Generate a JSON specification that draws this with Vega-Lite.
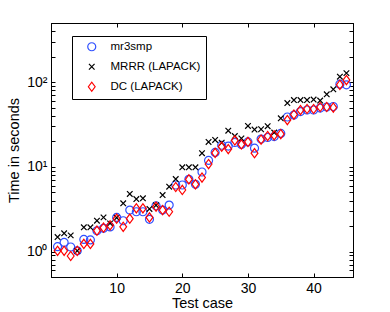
{
  "$schema": "https://vega.github.io/schema/vega-lite/v6.json",
  "width": 302,
  "height": 254,
  "autosize": {"type": "none"},
  "padding": {"left": 51, "top": 23, "right": 37, "bottom": 35},
  "background": "white",
  "config": {
    "view": {"stroke": "black", "strokeWidth": 1},
    "font": "Liberation Sans",
    "axis": {"grid": false, "domainColor": "black", "tickColor": "black", "labelColor": "black", "titleColor": "black", "labelFont": "Liberation Sans", "titleFont": "Liberation Sans", "labelFontSize": 14, "titleFontSize": 14.5, "titleFontWeight": "normal", "tickSize": -4, "labelOverlap": false}
  },
  "datasets": {
    "d": [
      {"case":1,"method":"mr3smp","time":1.14},{"case":2,"method":"mr3smp","time":1.28},{"case":3,"method":"mr3smp","time":1.13},{"case":4,"method":"mr3smp","time":1.02},{"case":5,"method":"mr3smp","time":1.39},{"case":6,"method":"mr3smp","time":1.37},{"case":7,"method":"mr3smp","time":1.76},{"case":8,"method":"mr3smp","time":1.88},{"case":9,"method":"mr3smp","time":1.95},{"case":10,"method":"mr3smp","time":2.53},{"case":11,"method":"mr3smp","time":2.31},{"case":12,"method":"mr3smp","time":3.09},{"case":13,"method":"mr3smp","time":2.95},{"case":14,"method":"mr3smp","time":2.95},{"case":15,"method":"mr3smp","time":2.40},{"case":16,"method":"mr3smp","time":3.47},{"case":17,"method":"mr3smp","time":3.09},{"case":18,"method":"mr3smp","time":3.54},{"case":19,"method":"mr3smp","time":6.10},{"case":20,"method":"mr3smp","time":6.10},{"case":21,"method":"mr3smp","time":7.12},{"case":22,"method":"mr3smp","time":6.22},{"case":23,"method":"mr3smp","time":8.69},{"case":24,"method":"mr3smp","time":11.9},{"case":25,"method":"mr3smp","time":14.8},{"case":26,"method":"mr3smp","time":18.0},{"case":27,"method":"mr3smp","time":17.6},{"case":28,"method":"mr3smp","time":19.4},{"case":29,"method":"mr3smp","time":18.4},{"case":30,"method":"mr3smp","time":19.7},{"case":31,"method":"mr3smp","time":16.6},{"case":32,"method":"mr3smp","time":21.3},{"case":33,"method":"mr3smp","time":22.2},{"case":34,"method":"mr3smp","time":22.8},{"case":35,"method":"mr3smp","time":24.8},{"case":36,"method":"mr3smp","time":38.8},{"case":37,"method":"mr3smp","time":40.9},{"case":38,"method":"mr3smp","time":45.0},{"case":39,"method":"mr3smp","time":46.9},{"case":40,"method":"mr3smp","time":46.9},{"case":41,"method":"mr3smp","time":49.5},{"case":42,"method":"mr3smp","time":50.9},{"case":43,"method":"mr3smp","time":51.6},{"case":44,"method":"mr3smp","time":94.8},{"case":45,"method":"mr3smp","time":93.0},
      {"case":1,"method":"MRRR (LAPACK)","time":1.48},{"case":2,"method":"MRRR (LAPACK)","time":1.64},{"case":3,"method":"MRRR (LAPACK)","time":1.55},{"case":4,"method":"MRRR (LAPACK)","time":1.02},{"case":5,"method":"MRRR (LAPACK)","time":1.93},{"case":6,"method":"MRRR (LAPACK)","time":1.93},{"case":7,"method":"MRRR (LAPACK)","time":2.31},{"case":8,"method":"MRRR (LAPACK)","time":2.53},{"case":9,"method":"MRRR (LAPACK)","time":2.15},{"case":10,"method":"MRRR (LAPACK)","time":2.51},{"case":11,"method":"MRRR (LAPACK)","time":3.71},{"case":12,"method":"MRRR (LAPACK)","time":4.78},{"case":13,"method":"MRRR (LAPACK)","time":4.17},{"case":14,"method":"MRRR (LAPACK)","time":4.25},{"case":15,"method":"MRRR (LAPACK)","time":3.18},{"case":16,"method":"MRRR (LAPACK)","time":3.51},{"case":17,"method":"MRRR (LAPACK)","time":4.65},{"case":18,"method":"MRRR (LAPACK)","time":5.83},{"case":19,"method":"MRRR (LAPACK)","time":7.18},{"case":20,"method":"MRRR (LAPACK)","time":9.87},{"case":21,"method":"MRRR (LAPACK)","time":9.87},{"case":22,"method":"MRRR (LAPACK)","time":9.87},{"case":23,"method":"MRRR (LAPACK)","time":14.5},{"case":24,"method":"MRRR (LAPACK)","time":19.7},{"case":25,"method":"MRRR (LAPACK)","time":20.8},{"case":26,"method":"MRRR (LAPACK)","time":19.3},{"case":27,"method":"MRRR (LAPACK)","time":26.7},{"case":28,"method":"MRRR (LAPACK)","time":23.1},{"case":29,"method":"MRRR (LAPACK)","time":21.7},{"case":30,"method":"MRRR (LAPACK)","time":30.4},{"case":31,"method":"MRRR (LAPACK)","time":27.6},{"case":32,"method":"MRRR (LAPACK)","time":27.8},{"case":33,"method":"MRRR (LAPACK)","time":30.2},{"case":34,"method":"MRRR (LAPACK)","time":25.4},{"case":35,"method":"MRRR (LAPACK)","time":37.4},{"case":36,"method":"MRRR (LAPACK)","time":56.7},{"case":37,"method":"MRRR (LAPACK)","time":61.5},{"case":38,"method":"MRRR (LAPACK)","time":61.5},{"case":39,"method":"MRRR (LAPACK)","time":61.5},{"case":40,"method":"MRRR (LAPACK)","time":62.4},{"case":41,"method":"MRRR (LAPACK)","time":60.7},{"case":42,"method":"MRRR (LAPACK)","time":71.9},{"case":43,"method":"MRRR (LAPACK)","time":82.4},{"case":44,"method":"MRRR (LAPACK)","time":116},{"case":45,"method":"MRRR (LAPACK)","time":128},
      {"case":1,"method":"DC (LAPACK)","time":1.02},{"case":2,"method":"DC (LAPACK)","time":1.02},{"case":3,"method":"DC (LAPACK)","time":0.885},{"case":4,"method":"DC (LAPACK)","time":1.02},{"case":5,"method":"DC (LAPACK)","time":1.23},{"case":6,"method":"DC (LAPACK)","time":1.23},{"case":7,"method":"DC (LAPACK)","time":1.76},{"case":8,"method":"DC (LAPACK)","time":1.91},{"case":9,"method":"DC (LAPACK)","time":2.04},{"case":10,"method":"DC (LAPACK)","time":2.44},{"case":11,"method":"DC (LAPACK)","time":1.96},{"case":12,"method":"DC (LAPACK)","time":2.44},{"case":13,"method":"DC (LAPACK)","time":3.24},{"case":14,"method":"DC (LAPACK)","time":3.24},{"case":15,"method":"DC (LAPACK)","time":2.53},{"case":16,"method":"DC (LAPACK)","time":3.38},{"case":17,"method":"DC (LAPACK)","time":3.09},{"case":18,"method":"DC (LAPACK)","time":2.95},{"case":19,"method":"DC (LAPACK)","time":5.78},{"case":20,"method":"DC (LAPACK)","time":5.33},{"case":21,"method":"DC (LAPACK)","time":7.12},{"case":22,"method":"DC (LAPACK)","time":6.22},{"case":23,"method":"DC (LAPACK)","time":7.48},{"case":24,"method":"DC (LAPACK)","time":10.8},{"case":25,"method":"DC (LAPACK)","time":14.6},{"case":26,"method":"DC (LAPACK)","time":17.3},{"case":27,"method":"DC (LAPACK)","time":16.2},{"case":28,"method":"DC (LAPACK)","time":20.5},{"case":29,"method":"DC (LAPACK)","time":18.4},{"case":30,"method":"DC (LAPACK)","time":19.7},{"case":31,"method":"DC (LAPACK)","time":14.5},{"case":32,"method":"DC (LAPACK)","time":21.0},{"case":33,"method":"DC (LAPACK)","time":23.1},{"case":34,"method":"DC (LAPACK)","time":23.6},{"case":35,"method":"DC (LAPACK)","time":24.4},{"case":36,"method":"DC (LAPACK)","time":35.7},{"case":37,"method":"DC (LAPACK)","time":41.5},{"case":38,"method":"DC (LAPACK)","time":46.9},{"case":39,"method":"DC (LAPACK)","time":48.2},{"case":40,"method":"DC (LAPACK)","time":48.2},{"case":41,"method":"DC (LAPACK)","time":50.9},{"case":42,"method":"DC (LAPACK)","time":50.9},{"case":43,"method":"DC (LAPACK)","time":50.2},{"case":44,"method":"DC (LAPACK)","time":93.0},{"case":45,"method":"DC (LAPACK)","time":106}
    ]
  },
  "data": {"name": "d"},
  "resolve": {"axis": {"x": "independent", "y": "independent"}},
  "layer": [
    {
      "mark": {"type": "point", "filled": false, "strokeWidth": 1.2, "opacity": 1, "size": 64},
      "encoding": {
        "x": {"field": "case", "type": "quantitative", "scale": {"domain": [0, 46], "nice": false, "zero": false},
              "axis": {"values": [10, 20, 30, 40], "title": "Test case", "labelPadding": 8, "titlePadding": 1}},
        "y": {"field": "time", "type": "quantitative", "scale": {"type": "log", "domain": [0.5, 500], "nice": false},
              "axis": {"values": [0.5,0.6,0.7,0.8,0.9,1,2,3,4,5,6,7,8,9,10,20,30,40,50,60,70,80,90,100,200,300,400,500],
                       "labelExpr": "datum.value == 1 ? '10⁰' : datum.value == 10 ? '10¹' : datum.value == 100 ? '10²' : ''",
                       "title": "Time in seconds", "labelPadding": 8, "titlePadding": 5}},
        "color": {"field": "method", "type": "nominal",
                  "scale": {"domain": ["mr3smp", "MRRR (LAPACK)", "DC (LAPACK)"], "range": ["#2f4fff", "#000000", "#ff0000"]},
                  "legend": {"orient": "none", "legendX": 21, "legendY": 13, "title": null, "strokeColor": "black", "fillColor": "white",
                             "padding": 5, "rowPadding": 6, "labelFontSize": 11.5, "labelFont": "Liberation Sans", "labelColor": "black",
                             "symbolSize": 64, "symbolStrokeWidth": 1.2, "symbolOffset": 9, "labelOffset": 13, "symbolFillColor": "transparent"}},
        "shape": {"field": "method", "type": "nominal",
                  "scale": {"domain": ["mr3smp", "MRRR (LAPACK)", "DC (LAPACK)"], "range": ["circle", "M-0.7,-0.7L0.7,0.7M-0.7,0.7L0.7,-0.7", "M-0.85,0L0,-1.15L0.85,0L0,1.15Z"]},
                  "legend": null}
      }
    },
    {
      "mark": {"type": "point", "opacity": 0},
      "encoding": {
        "x": {"field": "case", "type": "quantitative", "axis": {"orient": "top", "values": [10, 20, 30, 40], "labels": false, "title": null}},
        "y": {"field": "time", "type": "quantitative",
              "axis": {"orient": "right", "values": [0.5,0.6,0.7,0.8,0.9,1,2,3,4,5,6,7,8,9,10,20,30,40,50,60,70,80,90,100,200,300,400,500], "labels": false, "title": null}}
      }
    }
  ]
}
